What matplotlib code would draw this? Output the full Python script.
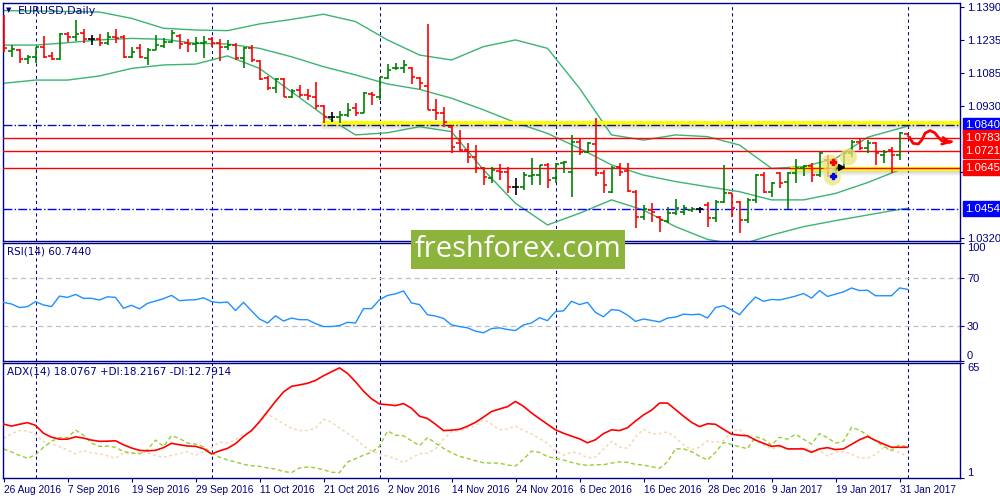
import numpy as np
import pandas as pd
import matplotlib
matplotlib.use('Agg')
import matplotlib.pyplot as plt
from matplotlib.patches import Rectangle
from matplotlib.transforms import blended_transform_factory

NAVY = '#000080'
AXFONT = ['Liberation Sans', 'DejaVu Sans']

# trading days shown on the chart (daily bars)
days = pd.bdate_range('2016-08-26', '2017-02-01')

opens = [1.1328, 1.1186, 1.1189, 1.1146, 1.1158, 1.1205, 1.1162, 1.1146, 1.1262, 1.1251,
         1.1267, 1.1239, 1.1239, 1.1220, 1.1251, 1.1251, 1.1155, 1.1197, 1.1151, 1.1189,
         1.1209, 1.1228, 1.1254, 1.1220, 1.1216, 1.1220, 1.1239, 1.1220, 1.1205, 1.1213,
         1.1151, 1.1197, 1.1140, 1.1058, 1.1012, 1.1053, 1.0973, 1.1004, 1.0981, 1.0973,
         1.0930, 1.0881, 1.0881, 1.0889, 1.0919, 1.0899, 1.0984, 1.0973, 1.1058, 1.1104,
         1.1104, 1.1104, 1.1058, 1.1023, 1.0912, 1.0896, 1.0834, 1.0757, 1.0726, 1.0695,
         1.0641, 1.0595, 1.0631, 1.0626, 1.0556, 1.0556, 1.0606, 1.0610, 1.0657, 1.0595,
         1.0664, 1.0626, 1.0765, 1.0719, 1.0754, 1.0618, 1.0533, 1.0649, 1.0631, 1.0533,
         1.0418, 1.0448, 1.0418, 1.0395, 1.0433, 1.0440, 1.0448, 1.0451, 1.0471, 1.0410,
         1.0487, 1.0525, 1.0487, 1.0402, 1.0495, 1.0610, 1.0533, 1.0618, 1.0579, 1.0618,
         1.0641, 1.0652, 1.0610, 1.0680, 1.0634, 1.0649, 1.0711, 1.0765, 1.0735, 1.0757,
         1.0703, 1.0726, 1.0703, 1.0800]
highs = [1.1351, 1.1213, 1.1194, 1.1166, 1.1205, 1.1254, 1.1182, 1.1267, 1.1271, 1.1328,
         1.1285, 1.1259, 1.1264, 1.1274, 1.1285, 1.1259, 1.1202, 1.1217, 1.1197, 1.1259,
         1.1243, 1.1282, 1.1262, 1.1239, 1.1251, 1.1254, 1.1248, 1.1239, 1.1236, 1.1220,
         1.1205, 1.1213, 1.1143, 1.1069, 1.1058, 1.1061, 1.1007, 1.1027, 1.1007, 1.1043,
         1.0935, 1.0904, 1.0908, 1.0946, 1.0942, 1.0996, 1.0996, 1.1066, 1.1125, 1.1131,
         1.1143, 1.1112, 1.1066, 1.1308, 1.0961, 1.0927, 1.0842, 1.0819, 1.0760, 1.0750,
         1.0649, 1.0649, 1.0661, 1.0649, 1.0595, 1.0626, 1.0688, 1.0657, 1.0668, 1.0664,
         1.0677, 1.0796, 1.0776, 1.0765, 1.0873, 1.0634, 1.0654, 1.0664, 1.0668, 1.0541,
         1.0472, 1.0479, 1.0421, 1.0464, 1.0498, 1.0470, 1.0464, 1.0461, 1.0487, 1.0495,
         1.0657, 1.0529, 1.0490, 1.0502, 1.0615, 1.0626, 1.0579, 1.0626, 1.0626, 1.0683,
         1.0657, 1.0664, 1.0718, 1.0703, 1.0688, 1.0723, 1.0772, 1.0780, 1.0772, 1.0765,
         1.0726, 1.0742, 1.0811, 1.0803]
lows = [1.1182, 1.1158, 1.1128, 1.1123, 1.1128, 1.1151, 1.1143, 1.1143, 1.1228, 1.1233,
        1.1223, 1.1213, 1.1208, 1.1213, 1.1220, 1.1151, 1.1151, 1.1151, 1.1120, 1.1189,
        1.1197, 1.1223, 1.1192, 1.1182, 1.1182, 1.1151, 1.1205, 1.1140, 1.1189, 1.1143,
        1.1104, 1.1135, 1.1050, 1.1004, 1.0989, 1.0970, 1.0966, 1.0973, 1.0958, 1.0915,
        1.0853, 1.0858, 1.0850, 1.0881, 1.0884, 1.0896, 1.0935, 1.0958, 1.1053, 1.1097,
        1.1081, 1.1032, 1.1007, 1.0912, 1.0865, 1.0831, 1.0711, 1.0719, 1.0664, 1.0618,
        1.0564, 1.0575, 1.0587, 1.0525, 1.0518, 1.0541, 1.0564, 1.0564, 1.0549, 1.0575,
        1.0621, 1.0507, 1.0703, 1.0711, 1.0606, 1.0529, 1.0525, 1.0606, 1.0533, 1.0367,
        1.0402, 1.0394, 1.0348, 1.0390, 1.0425, 1.0425, 1.0441, 1.0433, 1.0371, 1.0394,
        1.0482, 1.0418, 1.0340, 1.0390, 1.0479, 1.0525, 1.0510, 1.0549, 1.0451, 1.0572,
        1.0606, 1.0579, 1.0603, 1.0603, 1.0603, 1.0649, 1.0695, 1.0726, 1.0711, 1.0657,
        1.0664, 1.0618, 1.0680, 1.0785]
closes = [1.1200, 1.1194, 1.1146, 1.1158, 1.1202, 1.1158, 1.1146, 1.1262, 1.1251, 1.1262,
          1.1239, 1.1239, 1.1220, 1.1248, 1.1246, 1.1155, 1.1179, 1.1158, 1.1189, 1.1213,
          1.1228, 1.1267, 1.1217, 1.1215, 1.1223, 1.1228, 1.1223, 1.1205, 1.1213, 1.1151,
          1.1197, 1.1143, 1.1053, 1.1012, 1.1053, 1.0973, 1.1001, 1.0981, 1.0976, 1.0930,
          1.0881, 1.0881, 1.0889, 1.0912, 1.0896, 1.0992, 1.0981, 1.1063, 1.1097, 1.1107,
          1.1120, 1.1066, 1.1038, 1.0912, 1.0896, 1.0858, 1.0742, 1.0726, 1.0695, 1.0641,
          1.0603, 1.0634, 1.0626, 1.0556, 1.0556, 1.0610, 1.0612, 1.0657, 1.0587, 1.0661,
          1.0672, 1.0765, 1.0719, 1.0757, 1.0618, 1.0564, 1.0641, 1.0626, 1.0536, 1.0418,
          1.0452, 1.0441, 1.0402, 1.0433, 1.0456, 1.0458, 1.0453, 1.0451, 1.0410, 1.0487,
          1.0525, 1.0456, 1.0402, 1.0495, 1.0610, 1.0533, 1.0572, 1.0575, 1.0621, 1.0641,
          1.0652, 1.0610, 1.0711, 1.0634, 1.0649, 1.0711, 1.0765, 1.0735, 1.0757, 1.0711,
          1.0719, 1.0703, 1.0803, 1.0788]

# Bollinger bands read at every 4th bar
band_idx = [0, 4, 8, 12, 16, 20, 24, 28, 32, 36, 40, 44, 48, 52, 56, 60, 64, 68, 72, 76,
            80, 84, 88, 92, 96, 100, 104, 108, 112, 113]
bb_upper = [1.1372, 1.1370, 1.1368, 1.1365, 1.1336, 1.1290, 1.1282, 1.1279, 1.1310, 1.1331,
            1.1355, 1.1321, 1.1236, 1.1166, 1.1143, 1.1205, 1.1236, 1.1197, 1.1012, 1.0796,
            1.0772, 1.0796, 1.0788, 1.0749, 1.0641, 1.0649, 1.0687, 1.0785, 1.0826, 1.0837]
bb_middle = [1.1212, 1.1212, 1.1223, 1.1236, 1.1243, 1.1239, 1.1220, 1.1217, 1.1197, 1.1158,
             1.1112, 1.1074, 1.1032, 1.1007, 1.0966, 1.0912, 1.0853, 1.0803, 1.0734, 1.0657,
             1.0610, 1.0580, 1.0556, 1.0533, 1.0495, 1.0495, 1.0525, 1.0575, 1.0634, 1.0641]
bb_lower = [1.1035, 1.1050, 1.1050, 1.1069, 1.1104, 1.1120, 1.1124, 1.1162, 1.1104, 1.0996,
            1.0888, 1.0796, 1.0806, 1.0834, 1.0811, 1.0634, 1.0479, 1.0379, 1.0433, 1.0495,
            1.0448, 1.0371, 1.0312, 1.0286, 1.0332, 1.0371, 1.0399, 1.0425, 1.0451, 1.0456]

rsi = [49.7, 48.3, 45.3, 46.1, 50.3, 47.5, 46.1, 55.0, 53.9, 56.4,
       53.1, 53.1, 51.7, 54.4, 53.9, 44.7, 47.2, 44.2, 48.9, 50.8,
       52.8, 55.6, 51.1, 51.7, 51.9, 53.6, 50.3, 49.4, 50.0, 42.8,
       49.7, 42.5, 35.6, 32.2, 38.3, 33.9, 36.4, 35.0, 35.0, 31.7,
       29.2, 29.2, 30.0, 32.8, 32.2, 44.4, 44.4, 51.9, 55.6, 56.9,
       59.4, 49.2, 47.8, 39.2, 38.1, 36.1, 30.6, 29.2, 28.1, 25.3,
       23.9, 27.5, 28.1, 26.7, 25.8, 30.6, 32.2, 36.7, 34.2, 41.9,
       42.5, 50.6, 47.8, 49.7, 41.1, 37.5, 43.6, 42.8, 38.9, 33.6,
       35.6, 34.4, 33.1, 36.4, 37.2, 39.7, 39.2, 39.7, 36.4, 45.3,
       46.9, 43.3, 39.2, 47.2, 54.2, 50.6, 52.2, 51.7, 53.3, 55.0,
       57.2, 53.3, 59.7, 54.7, 56.7, 58.6, 61.9, 59.7, 60.0, 55.3,
       55.3, 55.3, 61.9, 60.744]

adx = [31.0, 29.9, 30.9, 31.8, 30.3, 25.9, 23.7, 22.6, 22.6, 23.9,
       23.2, 22.1, 21.4, 21.5, 21.7, 19.5, 17.7, 16.4, 16.1, 16.4,
       17.9, 20.3, 19.5, 18.8, 18.6, 17.3, 14.4, 16.1, 17.5, 20.1,
       24.1, 27.4, 32.3, 38.0, 43.6, 48.9, 52.0, 52.8, 53.7, 55.3,
       57.9, 60.1, 62.3, 59.2, 54.6, 49.3, 45.1, 42.2, 41.8, 41.3,
       42.4, 39.8, 35.4, 34.1, 30.9, 27.4, 27.6, 28.1, 29.8, 32.0,
       34.9, 38.0, 39.4, 40.7, 43.6, 40.9, 37.2, 34.0, 30.9, 27.8,
       25.9, 24.3, 22.8, 20.6, 22.3, 25.7, 27.8, 27.4, 29.0, 32.7,
       36.1, 38.7, 42.7, 42.7, 39.1, 35.4, 32.0, 29.6, 31.2, 30.9,
       28.1, 25.4, 24.8, 24.5, 22.1, 20.3, 18.6, 19.0, 17.2, 17.2,
       17.2, 15.3, 17.2, 17.9, 16.8, 17.2, 19.7, 22.3, 24.1, 21.9,
       19.9, 18.1, 18.1, 18.08]
plus_di = [17.2, 15.5, 13.5, 12.0, 13.9, 18.1, 21.4, 23.5, 23.5, 27.7,
           24.8, 20.4, 18.6, 18.8, 18.1, 15.7, 15.0, 14.4, 16.8, 22.1,
           18.6, 24.5, 23.0, 20.4, 19.9, 18.4, 15.0, 12.6, 11.1, 9.9,
           8.6, 7.8, 7.5, 6.6, 6.0, 4.6, 4.0, 6.6, 7.1, 6.7,
           5.6, 4.2, 4.0, 9.9, 11.7, 13.7, 15.3, 18.6, 27.2, 24.8,
           24.5, 21.7, 19.0, 23.5, 20.4, 17.5, 15.0, 13.1, 11.9, 10.6,
           9.5, 9.3, 9.3, 8.2, 7.7, 11.5, 15.9, 15.3, 12.9, 11.9,
           11.0, 9.7, 8.6, 8.0, 8.4, 8.4, 9.3, 10.0, 9.7, 8.6,
           8.2, 7.3, 6.4, 10.0, 17.3, 17.2, 15.7, 13.1, 11.0, 15.3,
           20.8, 19.7, 18.4, 17.3, 24.1, 22.6, 19.3, 23.7, 22.6, 25.4,
           22.6, 19.9, 25.7, 23.4, 20.4, 21.5, 29.2, 27.6, 24.8, 21.7,
           18.6, 16.4, 19.5, 18.22]
minus_di = [23.0, 25.6, 27.4, 27.2, 25.2, 21.2, 20.1, 18.4, 16.6, 14.4,
            16.2, 15.0, 14.4, 13.3, 12.0, 14.8, 14.4, 15.5, 15.0, 13.5,
            12.6, 13.5, 14.6, 15.7, 13.5, 15.7, 17.9, 21.0, 20.4, 22.3,
            25.2, 27.0, 31.8, 36.7, 33.9, 31.2, 28.7, 27.4, 27.4, 28.7,
            33.6, 32.1, 28.8, 25.9, 23.0, 18.8, 16.1, 14.4, 13.1, 11.7,
            9.5, 12.2, 14.6, 14.8, 17.2, 22.5, 26.8, 27.2, 28.8, 30.1,
            33.6, 31.0, 27.9, 28.3, 29.9, 27.4, 25.6, 23.0, 20.3, 16.2,
            13.7, 15.5, 14.6, 12.2, 12.6, 17.0, 21.4, 18.3, 17.5, 23.7,
            28.1, 25.6, 25.7, 26.6, 23.5, 19.5, 16.8, 18.1, 21.7, 20.8,
            21.7, 27.0, 28.1, 23.7, 21.7, 19.4, 17.2, 18.1, 17.2, 17.2,
            18.1, 15.9, 16.2, 13.3, 15.3, 15.7, 14.4, 12.2, 12.0, 14.1,
            17.9, 16.2, 15.3, 12.79]

# horizontal levels drawn by the analyst
levels = [1.0840, 1.0783, 1.0721, 1.0645, 1.0454]
level_colors = ['#1010a0', '#ff0000', '#ff0000', '#ff0000', '#0000ff']
level_styles = ['-.', '-', '-', '-', '-.']
tag_colors = ['#0000ff', '#ff0000', '#ff0000', '#ff0000', '#0000ff']
price_ticks = [1.1390, 1.1235, 1.1085, 1.0930, 1.0625, 1.0320]

# yellow marker zone, red forecast path
path_x = [113.3, 113.7, 114.35, 114.8, 115.2, 115.8, 116.4, 116.85, 117.3, 117.9, 118.5]
path_y = [1.0780, 1.0757, 1.0754, 1.0773, 1.0804, 1.0816, 1.0806, 1.0785, 1.0769, 1.0765, 1.0765]
blob_x = [103.3, 103.6, 105.6]
blob_y = [1.0666, 1.0601, 1.0694]


def style_axis(ax):
    for s in ax.spines.values():
        s.set_color(NAVY)
        s.set_linewidth(1)
    ax.set_xlim(-0.125, 119.56)
    ax.yaxis.tick_right()
    ax.tick_params(axis='y', direction='out', length=3, colors=NAVY, labelsize=8, pad=2,
                   labelcolor=NAVY)
    ax.set_xticks([])
    month_first = [i for i in range(1, len(days)) if days[i].month != days[i - 1].month]
    for m in month_first:
        ax.axvline(m, color=NAVY, ls=(0, (3, 3)), lw=0.75, zorder=1)


def set_font(labels, size):
    for t in labels:
        t.set_family(AXFONT)
        t.set_fontsize(size)


fig = plt.figure(figsize=(10, 5), dpi=100)
ax1 = fig.add_axes([0.0025, 0.518, 0.9575, 0.476])
ax2 = fig.add_axes([0.0025, 0.278, 0.9575, 0.236])
ax3 = fig.add_axes([0.0025, 0.044, 0.9575, 0.230])
for ax in (ax1, ax2, ax3):
    style_axis(ax)

# ---- main price panel
x = np.arange(len(days))
ax1.set_ylim(1.03046, 1.1407)
ax1.set_yticks(price_ticks)
ax1.set_yticklabels(['%.4f' % t for t in price_ticks])
set_font(ax1.get_yticklabels(), 8)

ax1.plot(band_idx, bb_upper, color='#3cb371', lw=1, zorder=2)
ax1.plot(band_idx, bb_middle, color='#3cb371', lw=1, zorder=2)
ax1.plot(band_idx, bb_lower, color='#3cb371', lw=1, zorder=2)

# highlight strips with soft shadow
px = 0.000463
for lev, start in [(levels[0] + 2.5 * px, 39.8), (levels[3] - 1.0 * px, 98.3)]:
    for k in range(1, 6):
        ax1.plot([start, 119.56], [lev - (1.5 + k) * px] * 2, color='gray',
                 alpha=0.22 - 0.035 * k, lw=1.5, solid_capstyle='butt', zorder=2)
    ax1.plot([start, 119.56], [lev, lev], color='#ffff00', lw=3, solid_capstyle='butt', zorder=2)

for lev, col, ls in zip(levels, level_colors, level_styles):
    ax1.axhline(lev, color=col, ls=ls, lw=1.0, zorder=3)

for i in x:
    o, h, l, c = opens[i], highs[i], lows[i], closes[i]
    col = '#008000' if c > o else ('#ff0000' if c < o else 'black')
    ax1.plot([i, i], [l, h], color=col, lw=1.2, solid_capstyle='butt', zorder=4)
    ax1.plot([i - 0.45, i], [o, o], color=col, lw=1.2, solid_capstyle='butt', zorder=4)
    ax1.plot([i, i + 0.45], [c, c], color=col, lw=1.2, solid_capstyle='butt', zorder=4)

ax1.scatter(blob_x, blob_y, s=150, color='#ece47a', alpha=0.75, edgecolors='none', zorder=5)
ax1.plot([103.7], [1.0671], marker='P', color='#ff0000', ms=5, zorder=6)
ax1.plot([103.7], [1.0606], marker='P', color='#0000ff', ms=5, zorder=6)
ax1.plot([104.7], [1.0647], marker='>', color='black', ms=5, zorder=6)

ax1.plot(path_x, path_y, color='#ff0000', lw=2, zorder=6, solid_capstyle='round')
ax1.annotate('', xy=(118.9, 1.0758), xytext=(117.9, 1.0765),
             arrowprops=dict(arrowstyle='->', color='#ff0000', lw=2,
                             mutation_scale=12), zorder=6)

# price tags on the right
tr = blended_transform_factory(ax1.transAxes, ax1.transData)
for lev, col in zip(levels, tag_colors):
    ax1.text(1.005, lev, '%.4f' % lev, transform=tr, color='white', fontsize=8.2,
             family=AXFONT, va='center', ha='left', clip_on=False, zorder=10,
             bbox=dict(boxstyle='square,pad=0.2', fc=col, ec=col))

# ---- RSI panel
ax2.set_ylim(0, 100)
ax2.plot(x, rsi, color='#1e90ff', lw=1, zorder=3)
for lv in (70, 30):
    ax2.axhline(lv, color='#c0c0c0', ls=(0, (4, 3)), lw=0.9, zorder=2)
ax2.set_yticks([0, 30, 70, 100])
ax2.set_yticklabels(['0', '30', '70', '100'])
labs = ax2.get_yticklabels()
set_font(labs, 8)
labs[0].set_va('bottom')
labs[3].set_va('top')

# ---- ADX panel
ax3.set_ylim(1, 65)
ax3.plot(x, minus_di, color='#f3d5a8', ls=(0, (2, 2)), lw=1, zorder=2)
ax3.plot(x, plus_di, color='#9acd32', ls=(0, (3, 2)), lw=1, zorder=2)
ax3.plot(x, adx, color='#ff0000', lw=1.2, zorder=3)
ax3.set_yticks([1, 65])
ax3.set_yticklabels(['1', '65'])
labs = ax3.get_yticklabels()
set_font(labs, 8)
labs[0].set_va('bottom')
labs[1].set_va('top')

date_pos = list(range(0, len(days), 8))
date_labels = ['%d %s' % (days[i].day, days[i].strftime('%b %Y')) for i in date_pos]
ax3.set_xticks(date_pos)
ax3.set_xticklabels(date_labels, ha='left')
ax3.tick_params(axis='x', direction='out', length=3, colors=NAVY, pad=2)
set_font(ax3.get_xticklabels(), 7.3)

# ---- captions
fig.text(0.006, 0.979, '\u25bc', fontsize=5, color=NAVY, va='center')
fig.text(0.018, 0.978, 'EURUSD,Daily', fontsize=8, color=NAVY, va='center')
fig.text(0.007, 0.498, 'RSI(14) 60.7440', fontsize=7.5, color=NAVY, va='center')
fig.text(0.007, 0.256, 'ADX(14) 18.0767 +DI:18.2167 -DI:12.7914', fontsize=7.5,
         color=NAVY, va='center')

# watermark
fig.add_artist(Rectangle((0.411, 0.462), 0.214, 0.078, transform=fig.transFigure,
                         fc='#8cb43c', ec='none', zorder=20))
fig.text(0.518, 0.501, 'freshforex.com', fontsize=21, color='white', ha='center',
         va='center', family=['Open Sans', 'DejaVu Sans'], zorder=21)

plt.savefig('out.png', dpi=100)
plt.close()
